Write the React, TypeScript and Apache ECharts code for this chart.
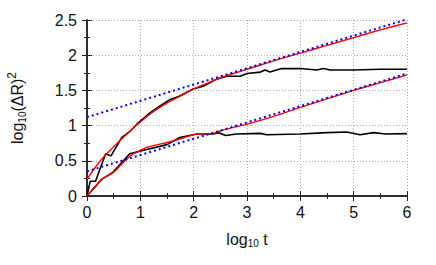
import React, { useEffect, useRef } from "react";
import * as echarts from "echarts";

const xB1 = [0, 0.06, 0.16, 0.35, 0.45, 0.65, 0.81, 0.96, 1.18, 1.37, 1.56, 1.74, 1.99, 2.18, 2.43, 2.62, 2.87, 3.0, 3.25, 3.34, 3.43, 3.65, 4.0, 4.31, 4.43, 4.56, 5.0, 5.5, 6.0];
const yB1 = [0, 0.21, 0.21, 0.6, 0.57, 0.83, 0.92, 1.04, 1.18, 1.28, 1.37, 1.42, 1.52, 1.56, 1.66, 1.7, 1.7, 1.74, 1.76, 1.79, 1.76, 1.81, 1.81, 1.79, 1.81, 1.79, 1.79, 1.8, 1.8];

const xR1 = [0, 0.25, 0.5, 0.75, 1, 1.25, 1.5, 1.75, 2, 2.25, 2.5, 2.75, 3, 3.5, 4, 4.5, 5, 5.5, 6];
const yR1 = [0.24, 0.5, 0.7, 0.88, 1.05, 1.2, 1.32, 1.42, 1.52, 1.6, 1.68, 1.74, 1.8, 1.92, 2.03, 2.14, 2.25, 2.36, 2.46];

const xR2 = [0, 0.28, 0.49, 0.81, 1.12, 1.5, 1.74, 2.06, 2.37, 2.56, 3.0, 3.5, 4, 4.5, 5, 5.5, 6];
const yR2 = [0, 0.24, 0.33, 0.57, 0.69, 0.76, 0.81, 0.88, 0.89, 0.94, 1.02, 1.13, 1.26, 1.38, 1.5, 1.61, 1.72];

const xB2 = [0, 0.28, 0.49, 0.8, 1.12, 1.5, 1.74, 2.06, 2.37, 2.47, 2.6, 2.8, 3.25, 3.37, 4.0, 4.5, 4.87, 5.12, 5.37, 5.6, 6];
const yB2 = [0, 0.24, 0.34, 0.6, 0.66, 0.73, 0.83, 0.88, 0.88, 0.9, 0.86, 0.88, 0.89, 0.87, 0.88, 0.9, 0.91, 0.87, 0.9, 0.88, 0.886];

const xFit = [0, 6];
const yFit1 = [1.12, 2.51];
const yFit2 = [0.35, 1.74];

const xTicks = ["0", "1", "2", "3", "4", "5", "6"];
const yTicks = ["0", "0.5", "1", "1.5", "2", "2.5"];

const zip = (xs: number[], ys: number[]) => xs.map((x, i) => [x, ys[i]]);

const FONT = "Liberation Sans";

export default function App() {
  const ref = useRef<HTMLDivElement>(null);
  useEffect(() => {
    if (!ref.current) return;
    const chart = echarts.init(ref.current, null, { renderer: "svg" });
    const axisLine = { show: true, lineStyle: { color: "#222", width: 1.5 } };
    const tick = { show: true, inside: true, length: 5, lineStyle: { color: "#222", width: 1 } };
    const minor = { show: true, splitNumber: 2, length: 3, lineStyle: { color: "#222", width: 1 } };
    const split = { show: true, lineStyle: { color: "#aaa", type: [1, 2], width: 1 } };
    chart.setOption({
      animation: false,
      grid: { left: 87, right: 29, top: 20, bottom: 69, containLabel: false, outerBoundsMode: "none" },
      xAxis: [
        {
          type: "value", min: 0, max: 6, interval: 1,
          axisLine, axisTick: tick, minorTick: minor, splitLine: split,
          axisLabel: {
            color: "#111", fontSize: 16, fontFamily: FONT, margin: 8,
            formatter: (v: number) => xTicks[Math.round(v)] ?? "",
          },
          name: "{a|log}{s|10}{a| t}",
          nameLocation: "middle", nameGap: 33,
          nameTextStyle: {
            rich: {
              a: { fontSize: 16, fontFamily: FONT, color: "#111", lineHeight: 20 },
              s: { fontSize: 10, fontFamily: FONT, color: "#111", padding: [9, 0, 0, 0] },
            },
          },
        },
        {
          type: "value", min: 0, max: 6, interval: 1, position: "top",
          axisLine, axisTick: tick, minorTick: minor, splitLine: { show: false },
          axisLabel: { show: false },
        },
      ],
      yAxis: [
        {
          type: "value", min: 0, max: 2.5, interval: 0.5,
          axisLine, axisTick: tick, minorTick: minor, splitLine: split,
          axisLabel: {
            color: "#111", fontSize: 16, fontFamily: FONT, margin: 10,
            formatter: (v: number) => yTicks[Math.round(v * 2)] ?? "",
          },
          name: "{a|log}{s|10}{a|(ΔR)}{p|2}",
          nameLocation: "middle", nameGap: 58,
          nameTextStyle: {
            rich: {
              a: { fontSize: 16, fontFamily: FONT, color: "#111", lineHeight: 20 },
              s: { fontSize: 10, fontFamily: FONT, color: "#111", padding: [9, 0, 0, 0] },
              p: { fontSize: 12, fontFamily: FONT, color: "#111", padding: [0, 0, 11, 0] },
            },
          },
        },
        {
          type: "value", min: 0, max: 2.5, interval: 0.5, position: "right",
          axisLine, axisTick: tick, minorTick: minor, splitLine: { show: false },
          axisLabel: { show: false },
        },
      ],
      series: [
        { type: "line", data: zip(xB1, yB1), showSymbol: false, lineStyle: { color: "#000", width: 1.6 }, z: 3 },
        { type: "line", data: zip(xB2, yB2), showSymbol: false, lineStyle: { color: "#000", width: 1.6 }, z: 3 },
        { type: "line", data: zip(xR1, yR1), showSymbol: false, smooth: 0.2, lineStyle: { color: "#ff0000", width: 1.4 }, z: 4 },
        { type: "line", data: zip(xR2, yR2), showSymbol: false, smooth: 0.2, lineStyle: { color: "#ff0000", width: 1.4 }, z: 4 },
        { type: "line", data: zip(xFit, yFit1), showSymbol: false, lineStyle: { color: "#0000ff", width: 2, type: [2, 3] }, z: 5 },
        { type: "line", data: zip(xFit, yFit2), showSymbol: false, lineStyle: { color: "#0000ff", width: 2, type: [2, 3] }, z: 5 },
      ],
    });
    return () => chart.dispose();
  }, []);
  return <div ref={ref} style={{ width: 436, height: 265, position: "absolute", left: 0, top: 0 }} />;
}
